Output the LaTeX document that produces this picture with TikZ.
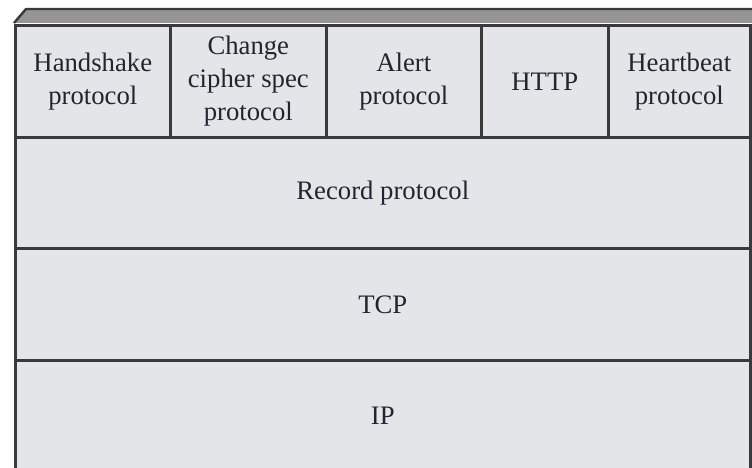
\documentclass[tikz,border=0pt]{standalone}
\usepackage{fontspec}
\setmainfont{Liberation Serif}
\definecolor{facefill}{HTML}{E4E5E8}
\definecolor{topfill}{HTML}{959596}
\definecolor{edge}{HTML}{3A3A3C}
\definecolor{ink}{HTML}{24242E}
\begin{document}
\begin{tikzpicture}[x=1pt,y=-1pt,
  cell/.style={draw=edge, fill=facefill, line width=2.6pt, rectangle,
    anchor=north west, inner sep=0pt, align=center, text=ink,
    font=\fontsize{26.7}{33}\selectfont},
  hdr/.style={cell, minimum height=112pt}]
\useasboundingbox (0,0) rectangle (752,468);
\clip (0,0) rectangle (752,468);
% top face of the stack
\fill[topfill] (14,23) -- (26,9) -- (765,9) -- (765,23) -- cycle;
\draw[edge, line width=2.4pt, line join=round] (14,23) -- (26,9) -- (765,9);
% lower layers
\node[cell, minimum width=735pt, minimum height=111pt] (ip)  at (14,359) {IP};
\node[cell, minimum width=735pt, minimum height=112pt] (tcp) at (14,247) {TCP};
\node[cell, minimum width=735pt, minimum height=111pt] (rec) at (14,136) {Record protocol};
% upper-layer protocols
\node[hdr, minimum width=155pt] (hs)  at (14,24)  {Handshake\\protocol};
\node[hdr, minimum width=156pt] (ccs) at (169,24) {Change\\cipher spec\\protocol};
\node[hdr, minimum width=155pt] (al)  at (325,24) {Alert\\protocol};
\node[hdr, minimum width=127pt] (http) at (480,24) {HTTP};
\node[hdr, minimum width=142pt] (hb)  at (607,24) {Heartbeat\\protocol};
\end{tikzpicture}
\end{document}
